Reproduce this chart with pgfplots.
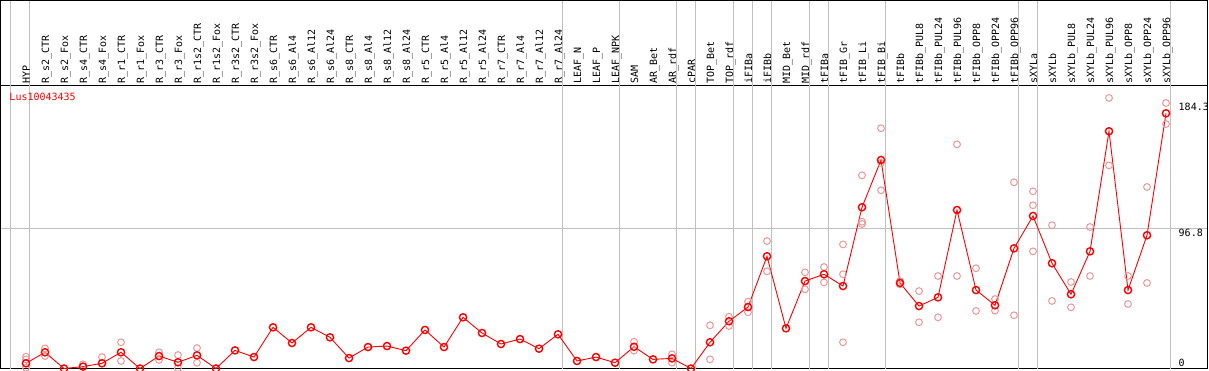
\documentclass[border=0pt]{standalone}
\usepackage{fontspec}
\setmonofont{DejaVu Sans Mono}
\usepackage{pgfplots}
\pgfplotsset{compat=1.18}
\definecolor{pinkrep}{RGB}{240,150,150}
\definecolor{gridgray}{RGB}{192,192,192}
\newcommand{\us}{\char95\relax}
\newcommand{\lab}[2]{\node[rotate=90, anchor=base west, inner sep=0pt] at ([xshift=4pt]axis cs:#1,196.2) {#2};}
\begin{document}
\begin{tikzpicture}
\begin{axis}[
  scale only axis, width=1206.5pt, height=283.2pt,
  xmin=-1.329, xmax=62.171, ymin=0, ymax=195.3,
  axis line style={black, line width=1pt},
  ticks=none,
  clip=false,
  font=\ttfamily\fontsize{10}{12}\selectfont,
]
% grid lines
\pgfplotsinvokeforeach{-0.842,0.21,28.235,31.235,34.235,35.235,37.235,38.235,39.235,41.235,42.235,45.235,52.235,53.235,60.235}{
  \draw[gridgray, line width=1pt] (axis cs:#1,0) -- (axis cs:#1,253.8);
}
\draw[gridgray, line width=1pt] (axis cs:-1.329,96.8) -- (axis cs:62.171,96.8);
% outer frame
\draw[black, line width=1pt] (axis cs:-1.329,195.3) -- (axis cs:-1.329,253.8) -- (axis cs:62.171,253.8) -- (axis cs:62.171,195.3);
% replicates
\addplot[only marks, mark=o, mark size=3.4pt, mark options={pinkrep, line width=1pt}] coordinates {
(0,8.1) (0,6.3) (0,0.5)
(1,13.9) (1,8.6)
(3,2.9) (4,7.9)
(5,18.1) (5,5.2)
(7,11.2) (7,5.9)
(8,9.3) (8,0.3)
(9,14.1) (9,4.0)
(32,18.5) (32,12.3)
(34,9.8) (34,4.0)
(36,29.8) (36,6.3)
(37,35.7) (37,29.3)
(38,46.1) (38,38.8)
(39,87.9) (39,67.0)
(41,66.3) (41,54.6)
(42,70.0) (42,59.4)
(43,85.6) (43,65.0) (43,18.1)
(44,133.2) (44,101.2) (44,99.7)
(45,165.7) (45,141.9) (45,122.9)
(46,60.3) (46,58.0)
(47,53.4) (47,31.9)
(48,63.8) (48,35.3)
(49,154.6) (49,63.8)
(50,69.1) (50,39.7)
(51,47.9) (51,39.9)
(52,128.4) (52,36.7)
(53,122.2) (53,112.6) (53,80.8)
(54,98.8) (54,46.6)
(55,59.7) (55,42.2)
(56,97.6) (56,63.8)
(57,186.6) (57,140.1)
(58,63.8) (58,44.5)
(59,125.2) (59,59.0)
(60,183.1) (60,168.6)
};
% means
\addplot[red, line width=0.9pt, mark=o, mark size=3.6pt, mark options={red, line width=1.4pt, solid}] coordinates {
(0,3.6) (1,11.2) (2,0) (3,1.3) (4,3.6) (5,11.2) (6,0) (7,8.6) (8,4.3) (9,9.1)
(10,0) (11,12.5) (12,7.9) (13,28.4) (14,17.6) (15,28.4) (16,21.5) (17,7.2) (18,14.8) (19,15.5)
(20,12.3) (21,26.6) (22,14.8) (23,35.3) (24,24.5) (25,16.9) (26,20.3) (27,13.7) (28,23.6) (29,5.2)
(30,7.9) (31,4.0) (32,15.0) (33,6.3) (34,7.0) (35,0) (36,18.1) (37,32.6) (38,42.4) (39,77.4)
(40,27.7) (41,60.3) (42,65.0) (43,56.9) (44,111.2) (45,143.8) (46,59.0) (47,43.1) (48,49.1) (49,109.3)
(50,54.1) (51,43.6) (52,82.9) (53,105.2) (54,72.6) (55,51.2) (56,80.8) (57,163.6) (58,54.1) (59,91.9)
(60,176.0)
};
% labels
\lab{0}{HYP}
\lab{1}{R\us s2\us CTR}
\lab{2}{R\us s2\us Fox}
\lab{3}{R\us s4\us CTR}
\lab{4}{R\us s4\us Fox}
\lab{5}{R\us r1\us CTR}
\lab{6}{R\us r1\us Fox}
\lab{7}{R\us r3\us CTR}
\lab{8}{R\us r3\us Fox}
\lab{9}{R\us r1s2\us CTR}
\lab{10}{R\us r1s2\us Fox}
\lab{11}{R\us r3s2\us CTR}
\lab{12}{R\us r3s2\us Fox}
\lab{13}{R\us s6\us CTR}
\lab{14}{R\us s6\us Al4}
\lab{15}{R\us s6\us Al12}
\lab{16}{R\us s6\us Al24}
\lab{17}{R\us s8\us CTR}
\lab{18}{R\us s8\us Al4}
\lab{19}{R\us s8\us Al12}
\lab{20}{R\us s8\us Al24}
\lab{21}{R\us r5\us CTR}
\lab{22}{R\us r5\us Al4}
\lab{23}{R\us r5\us Al12}
\lab{24}{R\us r5\us Al24}
\lab{25}{R\us r7\us CTR}
\lab{26}{R\us r7\us Al4}
\lab{27}{R\us r7\us Al12}
\lab{28}{R\us r7\us Al24}
\lab{29}{LEAF\us N}
\lab{30}{LEAF\us P}
\lab{31}{LEAF\us NPK}
\lab{32}{SAM}
\lab{33}{AR\us Bet}
\lab{34}{AR\us rdf}
\lab{35}{cPAR}
\lab{36}{TOP\us Bet}
\lab{37}{TOP\us rdf}
\lab{38}{iFIBa}
\lab{39}{iFIBb}
\lab{40}{MID\us Bet}
\lab{41}{MID\us rdf}
\lab{42}{tFIBa}
\lab{43}{tFIB\us Gr}
\lab{44}{tFIB\us Li}
\lab{45}{tFIB\us Bi}
\lab{46}{tFIBb}
\lab{47}{tFIBb\us PUL8}
\lab{48}{tFIBb\us PUL24}
\lab{49}{tFIBb\us PUL96}
\lab{50}{tFIBb\us OPP8}
\lab{51}{tFIBb\us OPP24}
\lab{52}{tFIBb\us OPP96}
\lab{53}{sXYLa}
\lab{54}{sXYLb}
\lab{55}{sXYLb\us PUL8}
\lab{56}{sXYLb\us PUL24}
\lab{57}{sXYLb\us PUL96}
\lab{58}{sXYLb\us OPP8}
\lab{59}{sXYLb\us OPP24}
\lab{60}{sXYLb\us OPP96}
% value labels
\node[anchor=west, inner sep=0pt] at (axis cs:60.658,180.55) {184.3};
\node[anchor=west, inner sep=0pt] at (axis cs:60.658,93.66) {96.8};
\node[anchor=west, inner sep=0pt] at (axis cs:60.658,4.0) {0};
\node[anchor=west, inner sep=0pt, text=red] at (axis cs:-0.879,187.03) {Lus10043435};
\coordinate (bbl) at (axis cs:-1.3684,-1.034);
\coordinate (btr) at (axis cs:62.263,254.14);
\end{axis}
\pgfresetboundingbox
\path[use as bounding box] (bbl) rectangle (btr);
\end{tikzpicture}
\end{document}
